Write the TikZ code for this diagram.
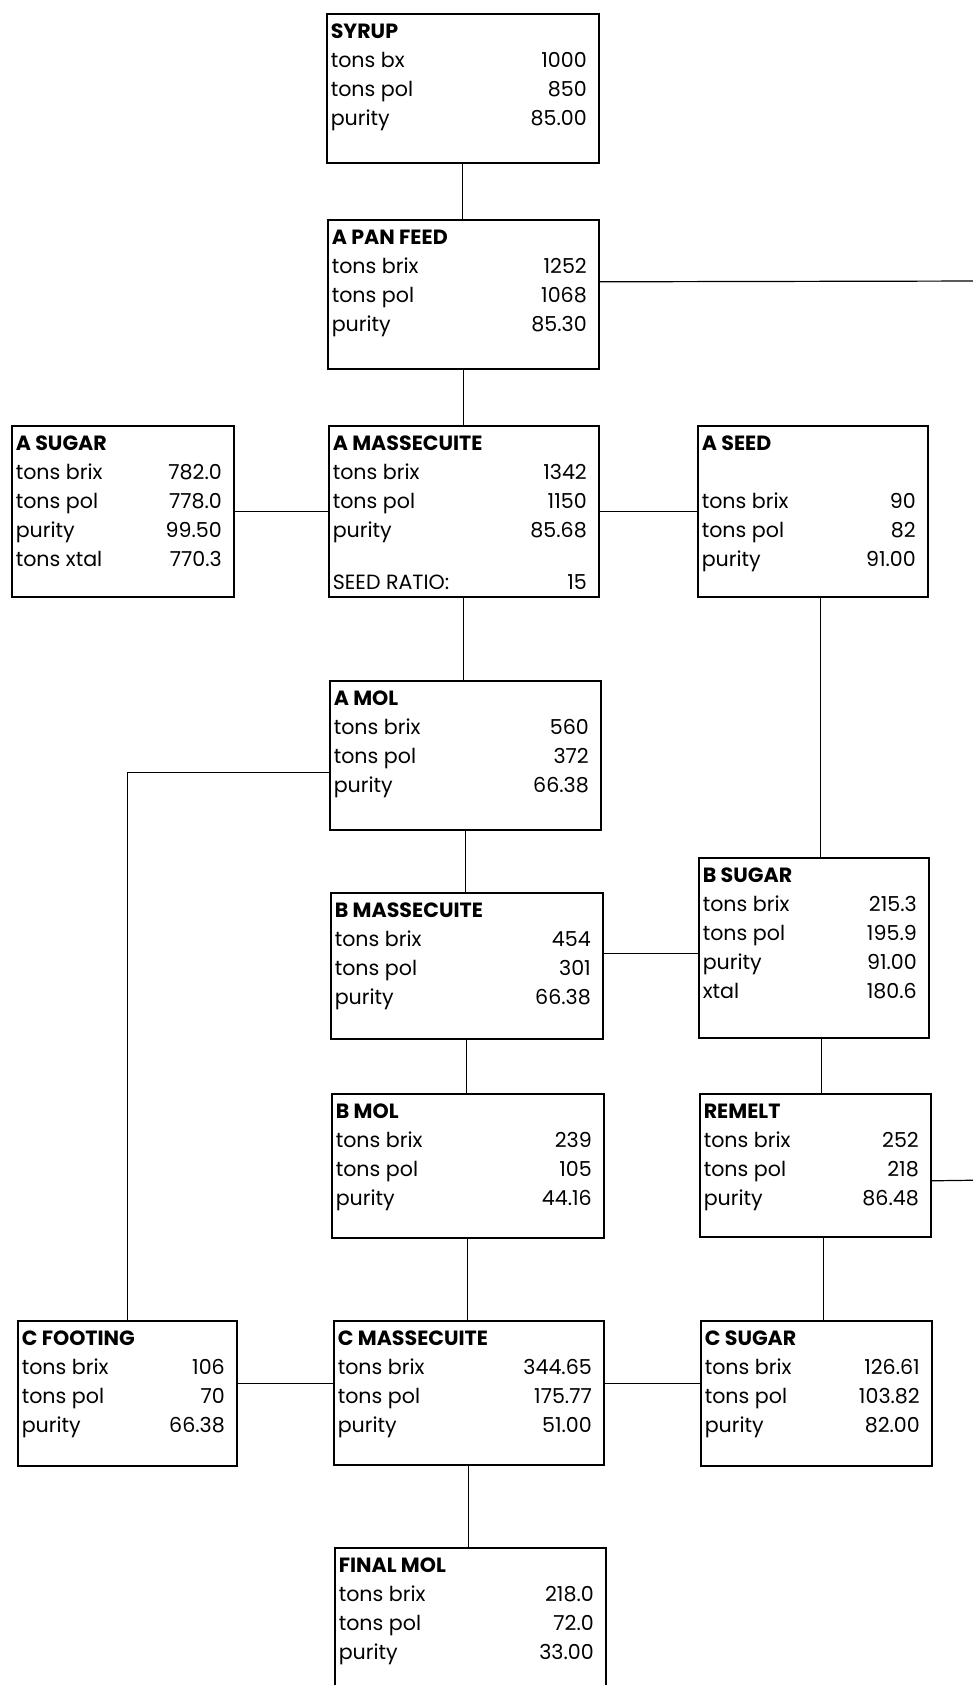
\documentclass[tikz,border=0pt]{standalone}
\usepackage{fontspec}
\setmainfont{Poppins}
\usetikzlibrary{positioning}
\newcommand{\stagebox}[4]{%
  \parbox[c][#2][t]{#1}{\vspace*{2.4pt}%
  \begin{tabular*}{#1}{@{\hspace{2pt}}l@{\extracolsep{\fill}}r@{\hspace{6pt}}}
  \multicolumn{2}{@{\hspace{2pt}}l}{\textbf{#3}}\\
  #4
  \end{tabular*}}}

\begin{document}
\begin{tikzpicture}[
  x=0.5pt, y=-0.5pt,
  stage/.style={draw, line width=0.8pt, anchor=north west, inner sep=0pt,
                font=\fontsize{10.3}{14.5}\selectfont},
  link/.style={draw, line width=0.6pt},
]
\useasboundingbox (0,0) rectangle (973,1685);
\clip (0,0) rectangle (973,1685);
\node[stage] (syrup) at (326,13) {\stagebox{136pt}{74.5pt}{SYRUP}{tons bx & 1000\\ tons pol & 850\\ purity & 85.00}};
\node[stage] (apan) at (327,219) {\stagebox{135.5pt}{74.5pt}{A PAN FEED}{tons brix & 1252\\ tons pol & 1068\\ purity & 85.30}};
\node[stage] (amass) at (328,425) {\stagebox{135pt}{85.5pt}{A MASSECUITE}{tons brix & 1342\\ tons pol & 1150\\ purity & 85.68\\ & \\[-3pt] SEED RATIO: & 15}};
\node[stage] (asugar) at (11,425) {\stagebox{111pt}{85.5pt}{A SUGAR}{tons brix & 782.0\\ tons pol & 778.0\\ purity & 99.50\\ tons xtal & 770.3}};
\node[stage] (aseed) at (697,425) {\stagebox{115pt}{85.5pt}{A SEED}{ & \\ tons brix & 90\\ tons pol & 82\\ purity & 91.00}};
\node[stage] (amol) at (329,680) {\stagebox{135.5pt}{74.5pt}{A MOL}{tons brix & 560\\ tons pol & 372\\ purity & 66.38}};
\node[stage] (bmass) at (330,892) {\stagebox{136pt}{73pt}{B MASSECUITE}{tons brix & 454\\ tons pol & 301\\ purity & 66.38}};
\node[stage] (bsugar) at (698,857) {\stagebox{115pt}{90pt}{B SUGAR}{tons brix & 215.3\\ tons pol & 195.9\\ purity & 91.00\\ xtal & 180.6}};
\node[stage] (bmol) at (331,1093) {\stagebox{136pt}{72pt}{B MOL}{tons brix & 239\\ tons pol & 105\\ purity & 44.16}};
\node[stage] (remelt) at (699,1093) {\stagebox{115.5pt}{71.5pt}{REMELT}{tons brix & 252\\ tons pol & 218\\ purity & 86.48}};
\node[stage] (cfoot) at (17,1320) {\stagebox{109.5pt}{72.5pt}{C FOOTING}{tons brix & 106\\ tons pol & 70\\ purity & 66.38}};
\node[stage] (cmass) at (333,1320) {\stagebox{135pt}{72pt}{C MASSECUITE}{tons brix & 344.65\\ tons pol & 175.77\\ purity & 51.00}};
\node[stage] (csugar) at (700,1320) {\stagebox{115.5pt}{72.5pt}{C SUGAR}{tons brix & 126.61\\ tons pol & 103.82\\ purity & 82.00}};
\node[stage] (final) at (334,1547) {\stagebox{135.5pt}{74.5pt}{FINAL MOL}{tons brix & 218.0\\ tons pol & 72.0\\ purity & 33.00}};
\coordinate (outA) at (990,281);
\coordinate (outR) at (990,1180);
\foreach \a/\b in {syrup/apan, apan/amass, amass/amol, amol/bmass, bmass/bmol, bmol/cmass, cmass/final}
  { \draw[link] (\a.south) -- (\a.south |- \b.north); }
\foreach \a/\b in {aseed/bsugar, bsugar/remelt, remelt/csugar}
  { \draw[link] ([xshift=4pt]\a.south) -- ([xshift=4pt]\a.south |- \b.north); }
\draw[link] (asugar.east) -- (amass.west);
\draw[link] (amass.east) -- (aseed.west);
\draw[link] ([yshift=6pt]bmass.east) -- ([yshift=6pt]bmass.east -| bsugar.west);
\draw[link] ([yshift=4.75pt]cmass.west) -- ([yshift=4.75pt]cmass.west -| cfoot.east);
\draw[link] ([yshift=4.75pt]cmass.east) -- ([yshift=4.75pt]cmass.east -| csugar.west);
\draw[link] ([yshift=-8.75pt]amol.west) -| (cfoot.north);
\draw[link] ([yshift=6.25pt]apan.east) -- (outA);
\draw[link] ([yshift=-7.75pt]remelt.east) -- (outR);
\end{tikzpicture}
\end{document}
